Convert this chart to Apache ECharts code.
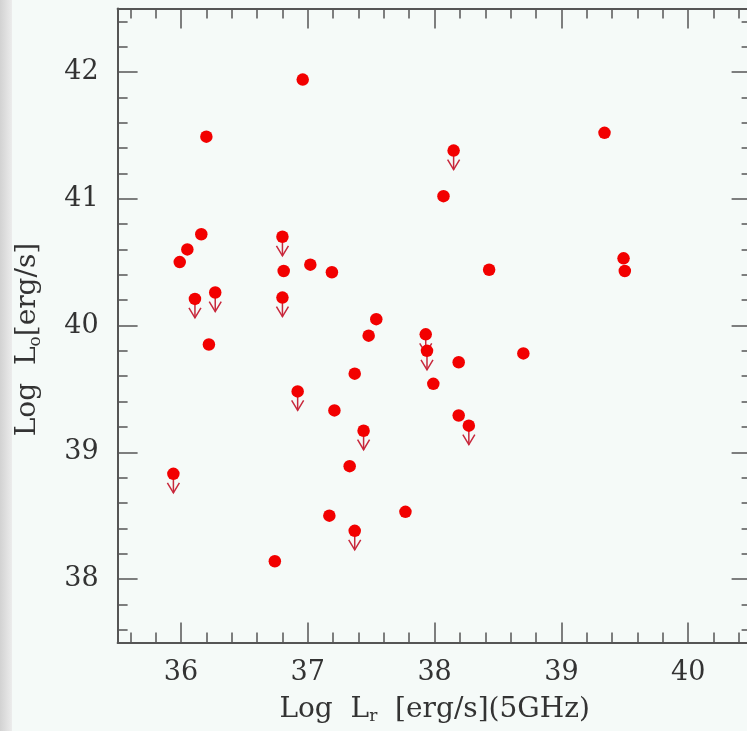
<!DOCTYPE html>
<html>
<head>
<meta charset="utf-8">
<script src="https://cdn.jsdelivr.net/npm/echarts@6/dist/echarts.min.js"></script>
<style>
  html, body { margin: 0; padding: 0; background: #f5faf8; }
  #chart { width: 747px; height: 731px; }
</style>
</head>
<body>
<div id="chart"></div>
<script>
// detections (filled dots)
const detX = [36.96, 36.20, 39.34, 38.07, 36.16, 36.05, 35.99, 36.81, 37.02, 37.19, 38.43, 39.49, 39.50,
  37.54, 37.48, 36.22, 38.19, 38.70, 37.99, 37.37, 37.21, 38.19, 37.33, 37.17, 37.77, 36.74]
const detY = [41.94, 41.49, 41.52, 41.02, 40.72, 40.60, 40.50, 40.43, 40.48, 40.42, 40.44, 40.53, 40.43,
  40.05, 39.92, 39.85, 39.71, 39.78, 39.54, 39.62, 39.33, 39.29, 38.89, 38.50, 38.53, 38.14]
// upper limits (dot + down arrow)
const limX = [38.15, 36.80, 36.11, 36.27, 36.80, 37.93, 37.94, 36.92, 38.27, 37.44, 35.94, 37.37]
const limY = [41.38, 40.70, 40.21, 40.26, 40.22, 39.93, 39.80, 39.48, 39.21, 39.17, 38.83, 38.38]

const xMajor = [36, 37, 38, 39, 40]
const xMinor = [35.6, 35.8, 36.2, 36.4, 36.6, 36.8, 37.2, 37.4, 37.6, 37.8, 38.2, 38.4, 38.6, 38.8,
  39.2, 39.4, 39.6, 39.8, 40.2, 40.4]
const yMajor = [38, 39, 40, 41, 42]
const yMinor = [37.6, 37.8, 38.2, 38.4, 38.6, 38.8, 39.2, 39.4, 39.6, 39.8, 40.2, 40.4, 40.6, 40.8,
  41.2, 41.4, 41.6, 41.8, 42.2, 42.4]

const axisColor = '#555'
const font = 'DejaVu Serif'

function frameAxis(pos, min, max, ticks, len, extra) {
  return Object.assign({
    type: 'value', position: pos, min: min, max: max,
    axisLine: { show: true, lineStyle: { color: axisColor, width: 2 } },
    axisTick: { show: true, inside: true, length: len, customValues: ticks, lineStyle: { color: axisColor, width: 1.5 } },
    axisLabel: { show: false },
    splitLine: { show: false }
  }, extra || {})
}

const titleRich = {
  t: { fontFamily: font, fontSize: 28, color: '#333' },
  s: { fontFamily: font, fontSize: 17, color: '#333', padding: [14, 0, 0, 0] }
}

const chart = echarts.init(document.getElementById('chart'))
chart.setOption({
  backgroundColor: '#f5faf8',
  animation: false,
  graphic: [{
    type: 'rect', left: 0, top: 0, shape: { width: 12, height: 731 },
    style: {
      fill: new echarts.graphic.LinearGradient(0, 0, 1, 0, [
        { offset: 0, color: '#d2d2d2' }, { offset: 1, color: '#ececec' }
      ])
    }
  }],
  grid: { left: 117.6, top: 8.6, width: 634, height: 633.8, outerBoundsMode: 'none' },
  xAxis: [
    frameAxis('bottom', 35.5, 40.5, xMajor, 20, {
      name: '{t|Log  L}{s|r}{t|  [erg/s](5GHz)}',
      nameLocation: 'middle', nameGap: 52,
      nameTextStyle: { rich: titleRich },
      axisLabel: { show: true, customValues: xMajor, margin: 17, fontFamily: font, fontSize: 27, color: '#333' }
    }),
    frameAxis('bottom', 35.5, 40.5, xMinor, 10, { axisLine: { show: false } }),
    frameAxis('top', 35.5, 40.5, xMajor, 20),
    frameAxis('top', 35.5, 40.5, xMinor, 10, { axisLine: { show: false } })
  ],
  yAxis: [
    frameAxis('left', 37.5, 42.5, yMajor, 20, {
      name: '{t|Log  L}{s|o}{t|[erg/s]}',
      nameLocation: 'middle', nameGap: 74,
      nameTextStyle: { rich: titleRich, padding: [0, 28, 0, 0] },
      axisLabel: { show: true, customValues: yMajor, margin: 19, fontFamily: font, fontSize: 27, color: '#333' }
    }),
    frameAxis('left', 37.5, 42.5, yMinor, 10, { axisLine: { show: false } }),
    frameAxis('right', 37.5, 42.5, yMajor, 20),
    frameAxis('right', 37.5, 42.5, yMinor, 10, { axisLine: { show: false } })
  ],
  series: [
    {
      type: 'custom',
      name: 'arrows',
      z: 2,
      data: limX.map((x, i) => [x, limY[i]]),
      renderItem: function (params, api) {
        const p = api.coord([api.value(0), api.value(1)])
        const st = { stroke: '#c8283c', lineWidth: 1.5, fill: null }
        return {
          type: 'group',
          children: [
            { type: 'line', shape: { x1: p[0], y1: p[1], x2: p[0], y2: p[1] + 19 }, style: st },
            { type: 'polyline', shape: { points: [[p[0] - 6, p[1] + 9], [p[0], p[1] + 19], [p[0] + 6, p[1] + 9]] }, style: st }
          ]
        }
      }
    },
    {
      type: 'scatter',
      name: 'limits',
      z: 3,
      symbolSize: 12.5,
      itemStyle: { color: '#f20000', opacity: 1 },
      data: limX.map((x, i) => [x, limY[i]])
    },
    {
      type: 'scatter',
      name: 'detections',
      z: 3,
      symbolSize: 12.5,
      itemStyle: { color: '#f20000', opacity: 1 },
      data: detX.map((x, i) => [x, detY[i]])
    }
  ]
})
</script>
</body>
</html>
